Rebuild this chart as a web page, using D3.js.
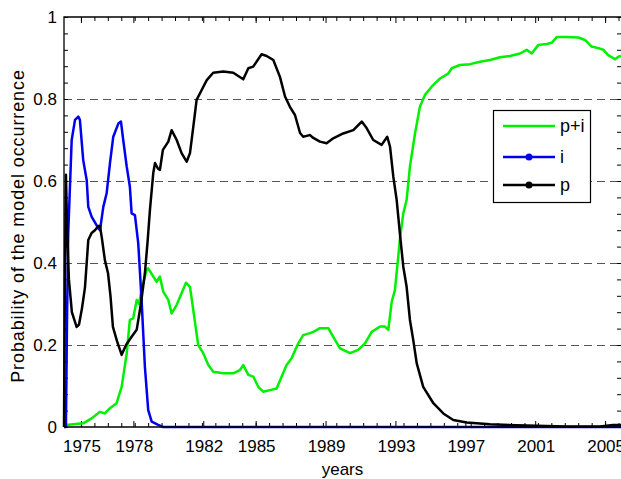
<!DOCTYPE html>
<html>
<head>
<meta charset="utf-8">
<script src="https://cdn.jsdelivr.net/npm/d3@7"></script>
<style>
  body { margin: 0; background: #fff; }
  svg { display: block; font-family: "Liberation Sans", Arial, Helvetica, sans-serif; }
  .tick-label { font-size: 17px; fill: #000; }
</style>
</head>
<body>
<svg></svg>
<script>
// series: year, probability
var pYear = [1974.03, 1974.08, 1974.14, 1974.20, 1974.31, 1974.48, 1974.75, 1974.89, 1975.06, 1975.23, 1975.42, 1975.61, 1975.80, 1975.99, 1976.09, 1976.20, 1976.37, 1976.55, 1976.69, 1976.83, 1977.06, 1977.33, 1977.58, 1977.90, 1978.19, 1978.43, 1978.66, 1978.81, 1978.95, 1979.14, 1979.24, 1979.41, 1979.52, 1979.69, 1980.00, 1980.19, 1980.48, 1980.76, 1981.05, 1981.24, 1981.43, 1981.62, 1981.91, 1982.20, 1982.57, 1983.15, 1983.72, 1984.29, 1984.58, 1984.86, 1985.34, 1985.63, 1986.01, 1986.39, 1986.68, 1986.96, 1987.25, 1987.54, 1987.72, 1987.92, 1988.11, 1988.30, 1988.68, 1989.06, 1989.44, 1990.01, 1990.59, 1991.07, 1991.35, 1991.73, 1992.21, 1992.53, 1992.69, 1992.88, 1993.07, 1993.26, 1993.45, 1993.64, 1993.83, 1994.02, 1994.22, 1994.59, 1995.17, 1995.74, 1996.31, 1997.08, 1998.41, 1999.94, 2002.80, 2004.71, 2005.45, 2005.91];
var pProb = [0, 0.35, 0.615, 0.50, 0.36, 0.28, 0.244, 0.25, 0.29, 0.34, 0.456, 0.473, 0.48, 0.49, 0.49, 0.46, 0.407, 0.375, 0.32, 0.244, 0.21, 0.176, 0.20, 0.22, 0.237, 0.30, 0.375, 0.45, 0.53, 0.62, 0.644, 0.63, 0.627, 0.676, 0.696, 0.724, 0.70, 0.668, 0.647, 0.668, 0.732, 0.798, 0.822, 0.846, 0.864, 0.867, 0.864, 0.848, 0.875, 0.879, 0.909, 0.905, 0.895, 0.854, 0.806, 0.781, 0.761, 0.717, 0.708, 0.71, 0.712, 0.705, 0.696, 0.692, 0.704, 0.716, 0.724, 0.745, 0.729, 0.70, 0.688, 0.708, 0.684, 0.61, 0.554, 0.47, 0.391, 0.342, 0.261, 0.212, 0.155, 0.098, 0.058, 0.033, 0.017, 0.011, 0.007, 0.004, 0.001, 0.001, 0.005, 0.005];

var iYear = [1974.03, 1974.14, 1974.20, 1974.27, 1974.47, 1974.66, 1974.85, 1974.94, 1975.13, 1975.33, 1975.42, 1975.61, 1975.99, 1976.09, 1976.28, 1976.47, 1976.66, 1976.85, 1977.14, 1977.29, 1977.42, 1977.62, 1977.80, 1977.90, 1978.09, 1978.28, 1978.47, 1978.66, 1978.85, 1979.05, 1979.42, 1979.71, 2005.91];
var iProb = [0, 0, 0.25, 0.47, 0.70, 0.749, 0.757, 0.749, 0.651, 0.602, 0.537, 0.513, 0.485, 0.48, 0.537, 0.57, 0.643, 0.708, 0.74, 0.745, 0.70, 0.635, 0.586, 0.521, 0.517, 0.448, 0.31, 0.147, 0.041, 0.013, 0.005, 0, 0];

var piYear = [1974.03, 1974.14, 1975.13, 1975.61, 1976.09, 1976.37, 1976.66, 1977.04, 1977.33, 1977.62, 1977.80, 1977.99, 1978.19, 1978.32, 1978.51, 1978.76, 1978.85, 1979.14, 1979.33, 1979.52, 1979.71, 1980.00, 1980.19, 1980.48, 1980.76, 1981.01, 1981.24, 1981.43, 1981.71, 1982.00, 1982.29, 1982.57, 1983.15, 1983.72, 1984.10, 1984.29, 1984.58, 1984.86, 1985.15, 1985.43, 1985.82, 1986.20, 1986.49, 1986.77, 1987.06, 1987.44, 1987.72, 1988.11, 1988.30, 1988.68, 1989.16, 1989.44, 1989.83, 1990.40, 1990.87, 1991.26, 1991.64, 1992.12, 1992.40, 1992.59, 1992.79, 1992.97, 1993.16, 1993.26, 1993.45, 1993.64, 1993.83, 1994.12, 1994.40, 1994.69, 1995.07, 1995.55, 1996.02, 1996.22, 1996.69, 1997.27, 1997.84, 1998.41, 1998.98, 1999.56, 2000.13, 2000.51, 2000.80, 2001.18, 2001.66, 2001.94, 2002.23, 2002.80, 2003.47, 2003.85, 2004.23, 2004.61, 2004.90, 2005.18, 2005.57, 2005.76, 2005.91];
var piProb = [0, 0.005, 0.009, 0.021, 0.037, 0.033, 0.046, 0.058, 0.098, 0.18, 0.261, 0.265, 0.31, 0.30, 0.342, 0.383, 0.387, 0.367, 0.354, 0.367, 0.33, 0.31, 0.277, 0.298, 0.326, 0.352, 0.342, 0.285, 0.20, 0.18, 0.151, 0.135, 0.131, 0.131, 0.139, 0.151, 0.127, 0.123, 0.098, 0.086, 0.09, 0.094, 0.123, 0.151, 0.168, 0.204, 0.224, 0.229, 0.232, 0.241, 0.241, 0.22, 0.192, 0.18, 0.188, 0.204, 0.232, 0.245, 0.245, 0.237, 0.306, 0.334, 0.415, 0.46, 0.521, 0.554, 0.635, 0.716, 0.781, 0.81, 0.83, 0.85, 0.862, 0.875, 0.883, 0.885, 0.891, 0.895, 0.902, 0.905, 0.911, 0.92, 0.911, 0.932, 0.934, 0.937, 0.951, 0.951, 0.95, 0.944, 0.928, 0.924, 0.92, 0.907, 0.897, 0.903, 0.905];

var xTickYears = [1975, 1978, 1982, 1985, 1989, 1993, 1997, 2001, 2005];
var yTicks = [0, 0.2, 0.4, 0.6, 0.8, 1];
var yGrid = [0.2, 0.4, 0.6, 0.8];
var legendNames = ['p+i', 'i', 'p'];

var width = 621,
    height = 479,
    margin = {top: 17, right: 0, bottom: 52, left: 64},
    colors = {pi: '#00f000', i: '#0000f0', p: '#000000'};

var svg = d3.select('svg')
    .attr('width', width)
    .attr('height', height);

var x = d3.scaleLinear().domain([1974.03, 2005.91]).range([margin.left, width - margin.right]),
    y = d3.scaleLinear().domain([0, 1]).range([height - margin.bottom, margin.top]);

var x0 = x.range()[0], x1 = x.range()[1],
    y0 = y.range()[0], y1 = y.range()[1];

function zip(a, b) {
    return a.map(function (d, k) { return [d, b[k]]; });
}

var line = d3.line()
    .x(function (d) { return x(d[0]); })
    .y(function (d) { return y(d[1]); });

// dashed grid
svg.append('g')
    .attr('class', 'grid')
    .selectAll('line')
    .data(yGrid)
    .enter().append('line')
    .attr('x1', x0)
    .attr('x2', x1)
    .attr('y1', function (d) { return Math.round(y(d)) + 0.5; })
    .attr('y2', function (d) { return Math.round(y(d)) + 0.5; })
    .attr('stroke', '#555')
    .attr('stroke-width', 1)
    .attr('stroke-dasharray', '8,5');

// minor ticks
var xMinor = d3.range(1975, 2006, 10 / 13),
    yMinor = d3.range(0, 1.001, 0.04);

var xAxisB = d3.axisBottom(x).tickValues(xMinor).tickSize(-4).tickFormat('');
var xAxisT = d3.axisTop(x).tickValues(xMinor).tickSize(-4).tickFormat('');
var yAxisL = d3.axisLeft(y).tickValues(yMinor).tickSize(-4).tickFormat('');
var yAxisR = d3.axisRight(y).tickValues(yMinor).tickSize(-4).tickFormat('');

svg.append('g').attr('class', 'axis').attr('transform', 'translate(0,' + y0 + ')').call(xAxisB);
svg.append('g').attr('class', 'axis').attr('transform', 'translate(0,' + y1 + ')').call(xAxisT);
svg.append('g').attr('class', 'axis').attr('transform', 'translate(' + x0 + ',0)').call(yAxisL);
svg.append('g').attr('class', 'axis').attr('transform', 'translate(' + x1 + ',0)').call(yAxisR);

// major ticks, a bit longer
svg.append('g').attr('class', 'axis').attr('transform', 'translate(0,' + y0 + ')')
    .call(d3.axisBottom(x).tickValues(xTickYears).tickSize(-6).tickFormat(''));
svg.append('g').attr('class', 'axis').attr('transform', 'translate(0,' + y1 + ')')
    .call(d3.axisTop(x).tickValues(xTickYears).tickSize(-6).tickFormat(''));

svg.selectAll('.axis .domain').remove();
svg.selectAll('.axis line').attr('stroke', '#000');

// series
var series = [
    {key: 'pi', data: zip(piYear, piProb)},
    {key: 'i', data: zip(iYear, iProb)},
    {key: 'p', data: zip(pYear, pProb)}
];

svg.append('g')
    .attr('class', 'lines')
    .selectAll('path')
    .data(series)
    .enter().append('path')
    .attr('d', function (d) { return line(d.data); })
    .attr('fill', 'none')
    .attr('stroke', function (d) { return colors[d.key]; })
    .attr('stroke-width', 2.5)
    .attr('stroke-linejoin', 'round');

// frame
svg.append('path')
    .attr('d', 'M' + x0 + ',' + y0 + 'V' + y1 + 'H' + x1)
    .attr('fill', 'none')
    .attr('stroke', '#000')
    .attr('stroke-width', 1.3);
svg.append('line')
    .attr('x1', x0).attr('x2', x1)
    .attr('y1', y0).attr('y2', y0)
    .attr('stroke', '#000')
    .attr('stroke-width', 1.3);

// tick labels
svg.append('g')
    .selectAll('text')
    .data(xTickYears)
    .enter().append('text')
    .attr('class', 'tick-label')
    .attr('x', function (d) { return x(d) + 1; })
    .attr('y', y0 + 25)
    .attr('text-anchor', 'middle')
    .text(function (d) { return d; });

svg.append('g')
    .selectAll('text')
    .data(yTicks)
    .enter().append('text')
    .attr('class', 'tick-label')
    .attr('x', x0 - 7)
    .attr('y', function (d) { return y(d); })
    .attr('dy', '0.36em')
    .attr('text-anchor', 'end')
    .text(function (d) { return d; });

// axis titles
svg.append('text')
    .attr('x', (x0 + x1) / 2)
    .attr('y', 475)
    .attr('text-anchor', 'middle')
    .style('font-size', '17px')
    .text('years');

svg.append('text')
    .attr('transform', 'translate(24,' + ((y0 + y1) / 2 + 4) + ') rotate(-90)')
    .attr('text-anchor', 'middle')
    .style('font-size', '18px')
    .style('letter-spacing', '0.9px')
    .text('Probability of the model occurrence');

// legend
var lg = svg.append('g')
    .attr('class', 'legend')
    .attr('transform', 'translate(493,110)');

lg.append('rect')
    .attr('x', 0.5)
    .attr('y', 0.5)
    .attr('width', 97)
    .attr('height', 92)
    .attr('fill', '#fff')
    .attr('stroke', '#000')
    .attr('stroke-width', 1.2);

var rowY = [16, 47, 75];
var li = lg.selectAll('.li')
    .data(series)
    .enter().append('g')
    .attr('class', 'li')
    .attr('transform', function (d, k) { return 'translate(0,' + rowY[k] + ')'; });

li.append('line')
    .attr('x1', 10)
    .attr('x2', 62)
    .attr('stroke', function (d) { return colors[d.key]; })
    .attr('stroke-width', 2.5);

li.filter(function (d) { return d.key !== 'pi'; })
    .append('circle')
    .attr('cx', 36)
    .attr('r', 3.5)
    .attr('fill', function (d) { return colors[d.key]; });

li.append('text')
    .attr('x', 67)
    .attr('dy', '0.36em')
    .style('font-size', '18px')
    .text(function (d, k) { return legendNames[k]; });
</script>
</body>
</html>
